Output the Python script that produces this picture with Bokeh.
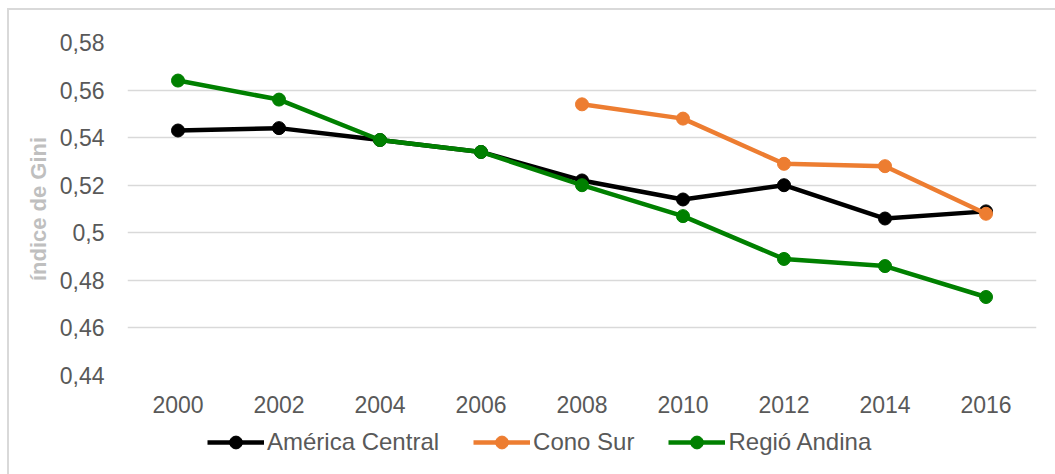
from bokeh.plotting import figure
from bokeh.layouts import column
from bokeh.models import Range1d, FixedTicker, CustomJSTickFormatter, Legend, LegendItem, ColumnDataSource
from bokeh.embed import file_html
from bokeh.resources import INLINE

years = [2000, 2002, 2004, 2006, 2008, 2010, 2012, 2014, 2016]
america_central = [0.543, 0.544, 0.539, 0.534, 0.522, 0.514, 0.520, 0.506, 0.509]
cono_sur_years = [2008, 2010, 2012, 2014, 2016]
cono_sur = [0.554, 0.548, 0.529, 0.528, 0.508]
regio_andina = [0.564, 0.556, 0.539, 0.534, 0.520, 0.507, 0.489, 0.486, 0.473]
y_ticks = [0.44, 0.46, 0.48, 0.50, 0.52, 0.54, 0.56, 0.58]
series_names = ["América Central", "Cono Sur", "Regió Andina"]
colors = ["#000000", "#ED7D31", "#008000"]

FONT = "Liberation Sans"

p = figure(width=1046, height=410, output_backend="svg", toolbar_location=None,
           x_range=Range1d(1999, 2017), y_range=Range1d(0.44, 0.58),
           min_border_left=118, min_border_right=19, min_border_top=32, min_border_bottom=45)
p.outline_line_color = None
p.background_fill_color = "white"
p.border_fill_color = "white"

p.xaxis.ticker = FixedTicker(ticks=years)
p.yaxis.ticker = FixedTicker(ticks=y_ticks)
p.yaxis.formatter = CustomJSTickFormatter(code="""
var s = tick.toFixed(2);
if (s.endsWith('0')) { s = s.slice(0, -1); }
return s.replace('.', ',');
""")
for ax in (p.xaxis[0], p.yaxis[0]):
    ax.axis_line_color = None
    ax.major_tick_line_color = None
    ax.minor_tick_line_color = None
    ax.major_label_text_font = FONT
    ax.major_label_text_font_size = "23px"
    ax.major_label_text_color = "#595959"
p.xaxis.major_label_standoff = 14
p.yaxis.major_label_standoff = 17
p.yaxis.axis_label = "índice de Gini"
p.yaxis.axis_label_text_font = FONT
p.yaxis.axis_label_text_font_style = "bold"
p.yaxis.axis_label_text_font_size = "22px"
p.yaxis.axis_label_text_color = "#BFBFBF"
p.yaxis.axis_label_standoff = 6

p.xgrid.grid_line_color = None
p.ygrid.grid_line_color = "#D9D9D9"
p.ygrid.grid_line_width = 1.5

data = [(years, america_central), (cono_sur_years, cono_sur), (years, regio_andina)]
sources = []
for name, (xs, ys), c in zip(series_names, data, colors):
    src = ColumnDataSource(dict(x=xs, y=ys))
    sources.append(src)
    p.line("x", "y", source=src, line_color=c, line_width=4.5)
    p.scatter("x", "y", source=src, size=13, fill_color=c, line_color=c)

# legend strip below the chart (series glyphs fall outside its ranges; only the legend shows)
pl = figure(width=1046, height=54, output_backend="svg", toolbar_location=None,
            x_range=Range1d(0, 1), y_range=Range1d(0, 1),
            x_axis_location=None, y_axis_location=None,
            min_border_left=0, min_border_right=0, min_border_top=0, min_border_bottom=0)
pl.outline_line_color = None
pl.xgrid.grid_line_color = None
pl.ygrid.grid_line_color = None
pl.border_fill_color = "white"
items = []
for name, c, src in zip(series_names, colors, sources):
    l = pl.line("x", "y", source=src, line_color=c, line_width=4.5)
    s = pl.scatter("x", "y", source=src, size=13, fill_color=c, line_color=c)
    items.append(LegendItem(label=name, renderers=[l, s]))
legend = Legend(items=items, orientation="horizontal", location=(80, 16),
                glyph_width=57, glyph_height=32, label_standoff=3, spacing=34,
                padding=0, margin=0, border_line_color=None, background_fill_alpha=0,
                label_text_font=FONT, label_text_font_size="24px", label_text_color="#595959")
pl.add_layout(legend, "center")

layout = column(p, pl, spacing=0)
layout.styles = {"margin-left": "7px", "margin-top": "8px",
                 "border-left": "2px solid #D9D9D9", "border-top": "2px solid #D9D9D9"}
open("out.html", "w").write(file_html(layout, INLINE))
